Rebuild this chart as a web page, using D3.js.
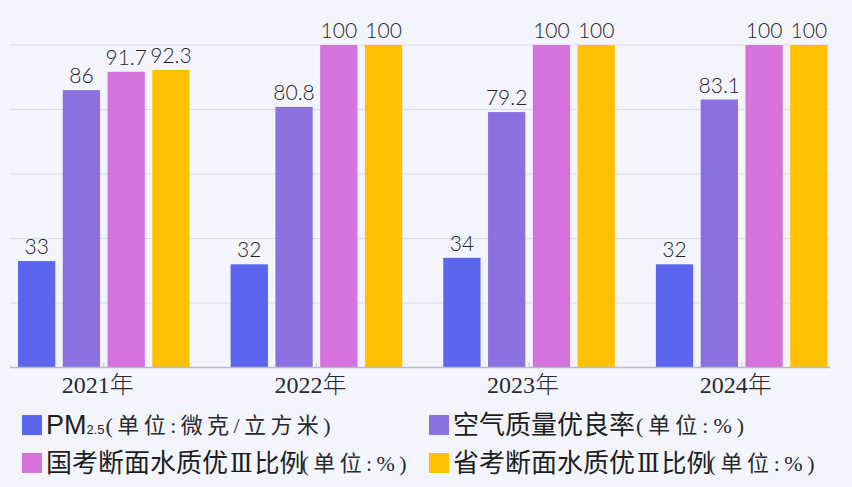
<!DOCTYPE html>
<html>
<head>
<meta charset="utf-8">
<script src="https://cdn.jsdelivr.net/npm/d3@7"></script>
<style>
  html, body { margin: 0; padding: 0; background: #f4f5fc; }
  svg { display: block; }
</style>
</head>
<body>
<div id="chart"></div>
<script>
// chart data
var years = ["2021年", "2022年", "2023年", "2024年"];
var seriesKeys = ["pm25", "air", "guo", "sheng"];
var pm25 = [33, 32, 34, 32];
var airRate = [86, 80.8, 79.2, 83.1];
var guoWater = [91.7, 100, 100, 100];
var shengWater = [92.3, 100, 100, 100];
var yTicks = [0, 20, 40, 60, 80, 100];

var colors = ["#5b65ee", "#8b70e0", "#d672dc", "#ffc000"];

// legend rows: text before numeral, numeral, text after, subscript, unit text
var legendMain = ["PM", "空气质量优良率", "国考断面水质优", "省考断面水质优"];
var legendNum = ["", "", "Ⅲ", "Ⅲ"];
var legendTail = ["", "", "比例", "比例"];
var legendSub = ["2.5", "", "", ""];
var legendUnit = ["(单位:微克/立方米)", "(单位:%)", "(单位:%)", "(单位:%)"];

var values = [pm25, airRate, guoWater, shengWater];

// unit text widths (layout only)
var unitWidth = [225, 108, 105, 106];

var width = 852, height = 487;

var svg = d3.select("#chart")
    .append("svg")
    .attr("width", width)
    .attr("height", height);

svg.append("rect")
    .attr("width", width)
    .attr("height", height)
    .attr("fill", "#f4f5fc");

//scales
var xScale = d3.scaleBand()
    .domain(years)
    .range([18, 827.5])
    .paddingInner(0.193)
    .paddingOuter(0);

var xInner = d3.scaleBand()
    .domain(seriesKeys)
    .range([0, xScale.bandwidth()])
    .paddingInner(0.167);

var yScale = d3.scaleLinear()
    .domain([0, 100])
    .range([367.5, 45]);

//grid lines
svg.append("g")
    .selectAll("line")
    .data(yTicks.slice(1))
    .enter()
    .append("line")
    .attr("x1", 10)
    .attr("x2", 830)
    .attr("y1", function (d) { return yScale(d); })
    .attr("y2", function (d) { return yScale(d); })
    .attr("stroke", "#dcdde9")
    .attr("stroke-width", 1.2);

//bars
var groups = svg.append("g")
    .selectAll("g")
    .data(years)
    .enter()
    .append("g")
    .attr("transform", function (d) { return "translate(" + xScale(d) + ",0)"; });

groups.selectAll("rect")
    .data(function (d, i) {
        return seriesKeys.map(function (k, j) { return { key: k, value: values[j][i], idx: j }; });
    })
    .enter()
    .append("rect")
    .attr("x", function (d) { return xInner(d.key); })
    .attr("y", function (d) { return yScale(d.value); })
    .attr("width", xInner.bandwidth())
    .attr("height", function (d) { return yScale(0) - yScale(d.value); })
    .attr("fill", function (d) { return colors[d.idx]; });

//value labels
groups.selectAll("text")
    .data(function (d, i) {
        return seriesKeys.map(function (k, j) { return { key: k, value: values[j][i] }; });
    })
    .enter()
    .append("text")
    .attr("x", function (d) { return xInner(d.key) + xInner.bandwidth() / 2; })
    .attr("y", function (d) { return yScale(d.value) - 7; })
    .attr("text-anchor", "middle")
    .attr("font-family", "Lato, sans-serif")
    .attr("font-weight", 300)
    .attr("font-size", 21)
    .attr("fill", "#222226")
    .text(function (d) { return d.value; });

//baseline
svg.append("line")
    .attr("x1", 10)
    .attr("x2", 830)
    .attr("y1", yScale(0))
    .attr("y2", yScale(0))
    .attr("stroke", "#b9bac6")
    .attr("stroke-width", 1.5);

//x-axis ticks + labels
var x_axis = d3.axisBottom(xScale).tickSize(-5).tickPadding(3);
var xg = svg.append("g")
    .attr("transform", "translate(0," + yScale(0) + ")")
    .call(x_axis);
xg.select(".domain").remove();
xg.selectAll(".tick line").attr("stroke", "#c4c5d0");
xg.selectAll(".tick text")
    .attr("dx", -6)
    .attr("dy", "0.95em")
    .attr("font-family", "'Liberation Serif', 'Noto Sans CJK SC', serif")
    .attr("font-weight", 300)
    .attr("font-size", 24)
    .attr("fill", "#2a2a30");

//legend
var legendX = [22, 429];
var legendY = [425, 463];

var legend = svg.append("g")
    .selectAll("g")
    .data(legendMain)
    .enter()
    .append("g")
    .attr("transform", function (d, i) {
        return "translate(" + legendX[i % 2] + "," + legendY[Math.floor(i / 2)] + ")";
    });

legend.append("rect")
    .attr("x", 0)
    .attr("y", -10)
    .attr("width", 20)
    .attr("height", 20)
    .attr("fill", function (d, i) { return colors[i]; });

var lt = legend.append("text")
    .attr("x", 24)
    .attr("y", 9)
    .attr("fill", "#1e1e22");

lt.append("tspan")
    .attr("font-family", function (d, i) { return i === 0 ? "'Liberation Sans', Arial, sans-serif" : "'Noto Sans CJK SC', sans-serif"; })
    .attr("font-size", function (d, i) { return i === 0 ? 27 : 26; })
    .text(function (d) { return d; });

lt.append("tspan")
    .attr("font-family", "'DejaVu Serif Condensed', 'DejaVu Serif', serif")
    .attr("font-size", 26)
    .attr("dx", function (d, i) { return legendNum[i] ? 2 : 0; })
    .text(function (d, i) { return legendNum[i]; });

lt.append("tspan")
    .attr("font-family", "'Noto Sans CJK SC', sans-serif")
    .attr("font-size", 25)
    .attr("dx", function (d, i) { return legendNum[i] ? 2 : 0; })
    .text(function (d, i) { return legendTail[i]; });

lt.append("tspan")
    .attr("font-family", "'Liberation Sans', Arial, sans-serif")
    .attr("font-size", 13)
    .text(function (d, i) { return legendSub[i]; });

// unit part, in its own text so it can be stretched to width
lt.each(function (d, i) {
    var w = this.getComputedTextLength();
    d3.select(this.parentNode).append("text")
        .attr("x", 24 + w + 1)
        .attr("y", 8)
        .attr("fill", "#2a2a2e")
        .attr("font-family", "'Liberation Serif', 'Noto Sans CJK SC', serif")
        .attr("font-size", 22)
        .attr("textLength", unitWidth[i])
        .attr("lengthAdjust", "spacing")
        .text(legendUnit[i]);
});
</script>
</body>
</html>
